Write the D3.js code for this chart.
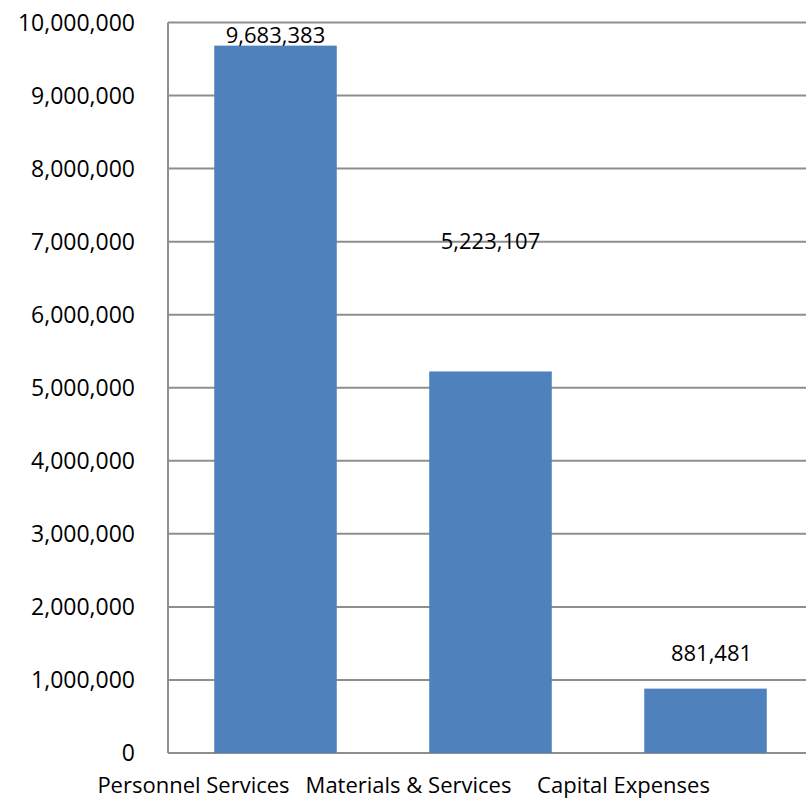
<!DOCTYPE html>
<html>
<head>
<meta charset="utf-8">
<script src="https://cdn.jsdelivr.net/npm/d3@7"></script>
<style>
  body { margin: 0; background: #fff; }
  text { font-family: "Open Sans", sans-serif; fill: #000; }
</style>
</head>
<body>
<div id="chart"></div>
<script>
const categories = ["Personnel Services", "Materials & Services", "Capital Expenses"];
const values = [9683383, 5223107, 881481];
const yTicks = [0, 1000000, 2000000, 3000000, 4000000, 5000000, 6000000, 7000000, 8000000, 9000000, 10000000];

const width = 806;
const height = 799;
const margin = {top: 22.5, right: -7, bottom: 46, left: 168};

// label placement, pixels above each bar top
const labelOffset = [3, 122, 28];

const svg = d3.select('#chart').append('svg')
    .attr('width', width)
    .attr('height', height);

const x = d3.scaleBand()
    .domain(categories)
    .range([margin.left, width - margin.right])
    .paddingInner(0.43)
    .paddingOuter(0.215);

const y = d3.scaleLinear()
    .domain([0, 10000000])
    .range([height - margin.bottom, margin.top]);

const fmt = d3.format(',');

// gridlines
svg.append('g')
    .selectAll('line')
    .data(yTicks)
    .enter().append('line')
    .attr('x1', margin.left)
    .attr('x2', width)
    .attr('y1', d => y(d))
    .attr('y2', d => y(d))
    .style('stroke', '#8e8e8e')
    .style('stroke-width', 2);

// left axis line
svg.append('line')
    .attr('x1', margin.left)
    .attr('x2', margin.left)
    .attr('y1', y(10000000))
    .attr('y2', y(0))
    .style('stroke', '#8e8e8e')
    .style('stroke-width', 2);

// y labels
svg.append('g')
    .selectAll('text')
    .data(yTicks)
    .enter().append('text')
    .attr('x', 135)
    .attr('y', d => y(d))
    .attr('dy', '.35em')
    .style('text-anchor', 'end')
    .style('font-size', '23px')
    .text(d => fmt(d));

// bars
svg.append('g')
    .selectAll('rect')
    .data(values)
    .enter().append('rect')
    .attr('x', (d, i) => x(categories[i]))
    .attr('y', d => y(d))
    .attr('width', x.bandwidth())
    .attr('height', d => y(0) - y(d))
    .style('fill', '#4f81bd');

// value labels
svg.append('g')
    .selectAll('text')
    .data(values)
    .enter().append('text')
    .attr('x', (d, i) => x(categories[i]) + x.bandwidth() / 2 + (i == 2 ? 6 : 0))
    .attr('y', (d, i) => y(d) - labelOffset[i])
    .style('text-anchor', 'middle')
    .style('font-size', '22px')
    .text(d => fmt(d));

// category labels
svg.append('g')
    .selectAll('text')
    .data(categories)
    .enter().append('text')
    .attr('x', d => x(d) + x.bandwidth() / 2 - 82)
    .attr('y', 793)
    .style('text-anchor', 'middle')
    .style('font-size', '22px')
    .text(d => d);
</script>
</body>
</html>
